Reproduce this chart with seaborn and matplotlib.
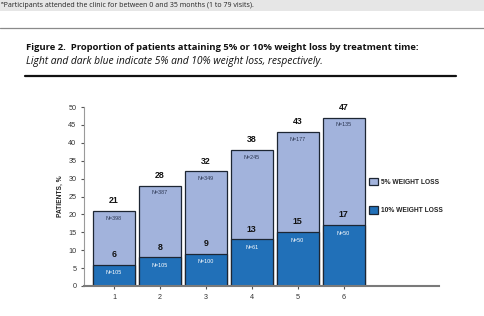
import matplotlib
matplotlib.use("Agg")
import matplotlib.pyplot as plt
import seaborn as sns
import pandas as pd
from matplotlib.patches import Rectangle

# ---- data ----
months = ["1", "2", "3", "4", "5", "6"]
pct_5 = [21, 28, 32, 38, 43, 47]
pct_10 = [6, 8, 9, 13, 15, 17]
n_5 = ["N=398", "N=387", "N=349", "N=245", "N=177", "N=135"]
n_10 = ["N=105", "N=105", "N=100", "N=61", "N=50", "N=50"]
series_labels = ["5% WEIGHT LOSS", "10% WEIGHT LOSS"]
yticks = [0, 5, 10, 15, 20, 25, 30, 35, 40, 45, 50]

LIGHT = "#a2b3dc"
DARK = "#2170b8"
EDGE = "#1d2633"

sns.set_theme(style="white")
plt.rcParams["font.family"] = ["Liberation Sans", "DejaVu Sans"]

W, H = 485, 316
fig = plt.figure(figsize=(W / 100, H / 100), dpi=100)

# header band & rules
fig.patches.append(Rectangle((0, 1 - 10.5 / H), 1, 10.5 / H, transform=fig.transFigure,
                             facecolor="#e6e6e6", edgecolor="none", zorder=0))
fig.text(1 / W, 1 - 5.5 / H, "ᵃParticipants attended the clinic for between 0 and 35 months (1 to 79 visits).",
         fontsize=5.0, family=["Open Sans", "DejaVu Sans"], va="center", ha="left", color="#222222")
fig.add_artist(plt.Line2D([0, 1], [1 - 27.5 / H] * 2, transform=fig.transFigure,
                          color="#8a8a8a", lw=0.9))
fig.text(26 / W, 1 - 47.5 / H,
         "Figure 2.  Proportion of patients attaining 5% or 10% weight loss by treatment time:",
         fontsize=6.8, fontweight="bold", family=["Open Sans", "DejaVu Sans"], va="center", ha="left",
         color="#111111")
fig.text(26 / W, 1 - 62 / H,
         "Light and dark blue indicate 5% and 10% weight loss, respectively.",
         fontsize=7.4, style="italic", family=["Open Sans", "DejaVu Sans"], va="center", ha="left",
         color="#111111")
fig.add_artist(plt.Line2D([25 / W, 456 / W], [1 - 75.8 / H] * 2, transform=fig.transFigure,
                          color="#111111", lw=1.6))

# chart
ax = fig.add_axes([84 / W, 1 - 286 / H, 355 / W, (286 - 107) / H])
df = pd.DataFrame({"month": months, "p5": pct_5, "p10": pct_10})
sns.barplot(data=df, x="month", y="p5", color=LIGHT, saturation=1, width=0.915,
            edgecolor=EDGE, linewidth=0.9, ax=ax, label=series_labels[0])
sns.barplot(data=df, x="month", y="p10", color=DARK, saturation=1, width=0.915,
            edgecolor=EDGE, linewidth=0.9, ax=ax, label=series_labels[1])

c_light, c_dark = ax.containers[0], ax.containers[1]
ax.bar_label(c_light, labels=[str(v) for v in pct_5], padding=4.2, fontsize=6.3,
             fontweight="bold", color="#111111")
ax.bar_label(c_dark, labels=[str(v) for v in pct_10], padding=4.2, fontsize=6.3,
             fontweight="bold", color="#111111")
ax.bar_label(c_light, labels=n_5, padding=-7.0, fontsize=3.9, color="#2a3550")
ax.bar_label(c_dark, labels=n_10, padding=-7.5, fontsize=3.9, color="white")

ax.set_ylim(0, 50)
ax.set_xlim(-0.654, 7.08)
ax.set_yticks(yticks)
ax.set_xlabel("")
ax.set_ylabel("PATIENTS, %", fontsize=4.8, fontweight="bold", color="#222222", labelpad=3.5)
ax.tick_params(axis="both", which="both", direction="out", length=2.5, width=0.8,
               color="#555555", labelsize=5.2, labelcolor="#333333", pad=3,
               left=True, bottom=True)
for s in ["top", "right"]:
    ax.spines[s].set_visible(False)
ax.spines["left"].set_color("#9a9a9a")
ax.spines["left"].set_linewidth(0.8)
ax.spines["bottom"].set_color("#7a7a7a")
ax.spines["bottom"].set_linewidth(1.5)
ax.set_facecolor("none")

handles, labels = ax.get_legend_handles_labels()
leg = ax.legend(handles, labels, loc="upper left", bbox_to_anchor=(285 / 355, (286 - 178) / (286 - 107)),
                frameon=False, fontsize=4.8, handlelength=1.35, handleheight=1.35,
                labelspacing=3.05, handletextpad=0.5, borderaxespad=0, borderpad=0)
for t in leg.get_texts():
    t.set_fontweight("bold")
    t.set_color("#222222")

fig.savefig("out.png", dpi=100)
